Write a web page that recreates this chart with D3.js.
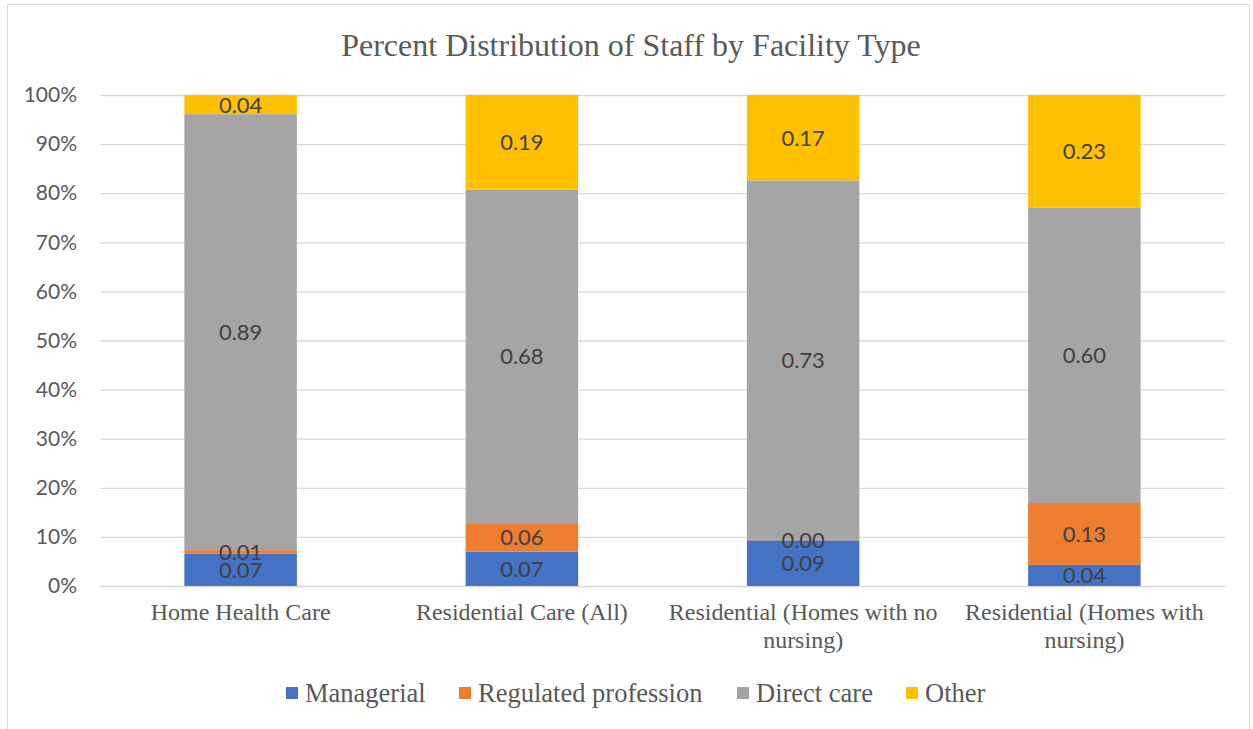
<!DOCTYPE html>
<html>
<head>
<meta charset="utf-8">
<script src="https://cdn.jsdelivr.net/npm/d3@7"></script>
<style>
  body { margin: 0; background: #fff; }
  svg { display: block; }
</style>
</head>
<body>
<svg width="1253" height="729"></svg>
<script>
// stacked 100% bars, staff share per facility type
const categories = ["Home Health Care", "Residential Care (All)", "Residential (Homes with no nursing)", "Residential (Homes with nursing)"]
const seriesNames = ["Managerial", "Regulated profession", "Direct care", "Other"]
const managerial = [0.066, 0.070, 0.093, 0.043]
const regulated  = [0.007, 0.058, 0.001, 0.126]
const directCare = [0.888, 0.679, 0.732, 0.602]
const other      = [0.039, 0.193, 0.174, 0.229]
const yTicks = [0, 0.1, 0.2, 0.3, 0.4, 0.5, 0.6, 0.7, 0.8, 0.9, 1]
const colors = ["#4472C4", "#ED7D31", "#A5A5A5", "#FFC000"]

const svg = d3.select("svg")
const margin = { top: 95, left: 100, right: 28, bottom: 143 }
const width = 1253, height = 729
const innerW = width - margin.left - margin.right
const innerH = height - margin.top - margin.bottom

// chart border
svg.append("rect")
  .attr("x", 7.5).attr("y", 4.5)
  .attr("width", width - 11).attr("height", height - 4)
  .attr("fill", "none").attr("stroke", "#d9d9d9")

svg.append("text")
  .attr("x", 631).attr("y", 56)
  .attr("text-anchor", "middle")
  .style("font-family", "'Liberation Serif', serif")
  .style("font-size", "32px")
  .attr("fill", "#595959")
  .text("Percent Distribution of Staff by Facility Type")

const g = svg.append("g").attr("transform", `translate(${margin.left},${margin.top})`)

const table = categories.map((c, i) => ({
  cat: c,
  "Managerial": managerial[i],
  "Regulated profession": regulated[i],
  "Direct care": directCare[i],
  "Other": other[i]
}))

const x = d3.scaleBand().domain(categories).range([0, innerW]).paddingInner(0.6).paddingOuter(0.3)
const y = d3.scaleLinear().domain([0, 1]).range([innerH, 0])

// gridlines
g.append("g")
  .call(d3.axisLeft(y).tickValues(yTicks).tickSize(-innerW).tickFormat(""))
  .call(a => a.select(".domain").remove())
  .call(a => a.selectAll("line").attr("stroke", "#d9d9d9").attr("stroke-width", 1.3))

// y labels
g.append("g")
  .call(d3.axisLeft(y).tickValues(yTicks).tickSize(0).tickPadding(23).tickFormat(d3.format(".0%")))
  .call(a => a.select(".domain").remove())
  .call(a => a.selectAll("text")
    .style("font-family", "Lato, 'Open Sans', sans-serif")
    .style("font-size", "21px")
    .attr("fill", "#595959"))

const stacked = d3.stack().keys(seriesNames)(table)

g.selectAll(".layer")
  .data(stacked).join("g")
    .attr("class", "layer")
    .attr("fill", (d, i) => colors[i])
  .selectAll("rect")
  .data(d => d).join("rect")
    .attr("x", d => x(d.data.cat))
    .attr("width", x.bandwidth())
    .attr("y", d => y(d[1]))
    .attr("height", d => y(d[0]) - y(d[1]))

// data labels drawn after every bar so none get covered
g.append("g").selectAll("text")
  .data(stacked.flat()).join("text")
    .attr("x", d => x(d.data.cat) + x.bandwidth() / 2)
    .attr("y", d => (y(d[0]) + y(d[1])) / 2)
    .attr("dy", "0.36em")
    .attr("text-anchor", "middle")
    .style("font-family", "Lato, 'Open Sans', sans-serif")
    .style("font-size", "22px")
    .attr("fill", "#404040")
    .text(d => d3.format(".2f")(d[1] - d[0]))

// category labels with wrapping
const xAxis = g.append("g").attr("transform", `translate(0,${innerH})`)
categories.forEach(c => {
  const cx = x(c) + x.bandwidth() / 2
  const t = xAxis.append("text")
    .attr("x", cx)
    .attr("y", 34)
    .attr("text-anchor", "middle")
    .style("font-family", "'Liberation Serif', serif")
    .style("font-size", "24px")
    .attr("fill", "#595959")
  const words = c.split(" ")
  let line = []
  let tspan = t.append("tspan").attr("x", cx).attr("dy", 0)
  words.forEach(w => {
    line.push(w)
    tspan.text(line.join(" "))
    if (tspan.node().getComputedTextLength() > x.step() - 4 && line.length > 1) {
      line.pop()
      tspan.text(line.join(" "))
      line = [w]
      tspan = t.append("tspan").attr("x", cx).attr("dy", 28).text(w)
    }
  })
})

// legend
const legend = svg.append("g").attr("transform", "translate(0,693)")
const legendX = [286, 459, 737, 906]
seriesNames.forEach((s, i) => {
  legend.append("rect")
    .attr("x", legendX[i]).attr("y", -6)
    .attr("width", 12).attr("height", 12)
    .attr("fill", colors[i])
  legend.append("text")
    .attr("x", legendX[i] + 19).attr("y", 0)
    .attr("dy", "0.35em")
    .style("font-family", "'Liberation Serif', serif")
    .style("font-size", "26.5px")
    .attr("fill", "#595959")
    .text(s)
})
</script>
</body>
</html>
